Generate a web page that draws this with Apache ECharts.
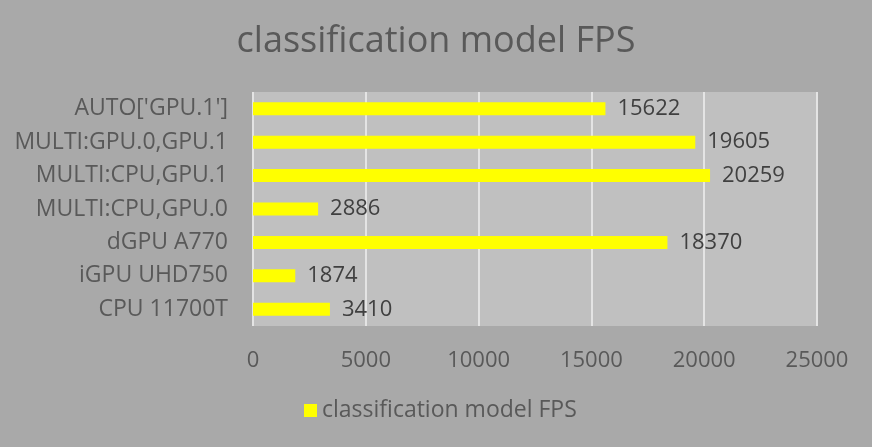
<!DOCTYPE html>
<html><head><meta charset="utf-8">
<script src="https://cdn.jsdelivr.net/npm/echarts@6/dist/echarts.min.js"></script>
<style>html,body{margin:0;padding:0;background:#A9A9A9;}#c{width:872px;height:447px;}</style>
</head><body><div id="c"></div>
<script>
const categories = ["CPU 11700T", "iGPU UHD750", "dGPU A770", "MULTI:CPU,GPU.0", "MULTI:CPU,GPU.1", "MULTI:GPU.0,GPU.1", "AUTO['GPU.1']"];
const fpsValues = [3410, 1874, 18370, 2886, 20259, 19605, 15622];
const seriesName = "classification model FPS";
const titleText = "classification model FPS";

const font = "'Open Sans', sans-serif";
const txt = "#595959";
const chart = echarts.init(document.getElementById('c'));
chart.setOption({
  backgroundColor: "#A9A9A9",
  animation: false,
  title: { text: titleText, left: 'center', top: 19,
    textStyle: { fontFamily: font, fontSize: 36, fontWeight: 'normal', color: txt } },
  legend: { bottom: 20, left: 299, itemWidth: 13, itemHeight: 13, itemGap: 8,
    icon: 'rect', data: [seriesName],
    textStyle: { fontFamily: font, fontSize: 23, color: txt } },
  grid: { left: 253, right: 55, top: 92, bottom: 121, show: true,
    backgroundColor: "#C0C0C0", borderWidth: 0 },
  xAxis: { type: 'value', min: 0, max: 25000, interval: 5000,
    axisLine: { show: false }, axisTick: { show: false },
    splitLine: { lineStyle: { color: "#E4E4E4", width: 2 } },
    axisLabel: { fontFamily: font, fontSize: 22, color: txt, margin: 24,
      formatter: v => String(v) } },
  yAxis: { type: 'category', data: categories,
    axisLine: { show: false }, axisTick: { show: false },
    axisLabel: { fontFamily: font, fontSize: 23, color: txt, margin: 25 } },
  series: [{ name: seriesName, type: 'bar', data: fpsValues, barWidth: 13,
    itemStyle: { color: "#FFFF00" },
    label: { show: true, position: 'right', distance: 12, fontFamily: font, fontSize: 22, color: "#404040" } }]
});
</script></body></html>
